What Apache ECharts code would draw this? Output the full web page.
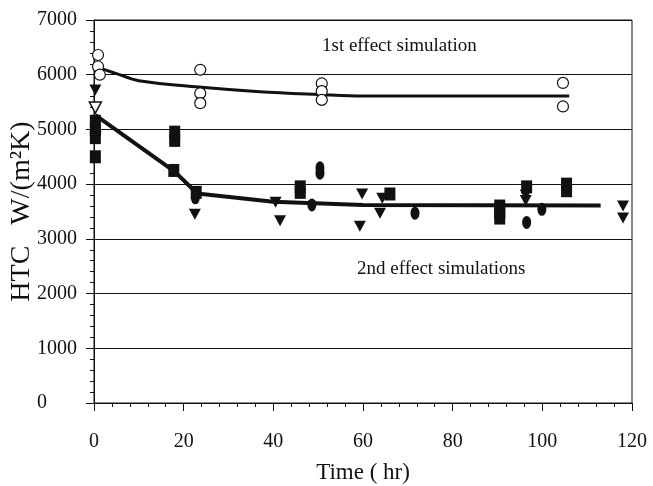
<!DOCTYPE html>
<html>
<head>
<meta charset="utf-8">
<script src="https://cdn.jsdelivr.net/npm/echarts@6/dist/echarts.min.js"></script>
<style>
html,body{margin:0;padding:0;background:#fff;}
#c{width:653px;height:486px;}
</style>
</head>
<body>
<div id="c"></div>
<script>
// ---- data (time in hr, HTC in W/(m2K)) ----
const xTicks = [0, 20, 40, 60, 80, 100, 120];
const yTicks = [0, 1000, 2000, 3000, 4000, 5000, 6000, 7000];

const firstEffectExp = [
  [0.9, 6360], [0.9, 6150], [1.3, 6000],
  [23.7, 6090], [23.7, 5660], [23.7, 5480],
  [50.8, 5840], [50.8, 5700], [50.8, 5540],
  [104.6, 5850], [104.6, 5420]
];
const firstEffectSim = [
  [1, 6130], [5, 6020], [10, 5890], [24, 5770], [37, 5690],
  [50, 5640], [60, 5610], [80, 5610], [106, 5610]
];
const secondSquares = [
  [0.3, 5150], [0.3, 5000], [0.3, 4850], [0.3, 4500],
  [18, 4950], [18, 4800], [17.8, 4250],
  [22.8, 3850],
  [46, 3950], [46, 3850],
  [66, 3820],
  [90.5, 3600], [90.5, 3480], [90.5, 3380],
  [96.5, 3950],
  [105.4, 4000], [105.4, 3880]
];
const secondCircles = [
  [0.6, 4950], [22.6, 3750], [48.6, 3620], [50.4, 4300], [50.4, 4200],
  [71.6, 3470], [96.5, 3300], [99.9, 3540]
];
const secondTriangles = [
  [0.3, 5720], [22.5, 3450], [40.5, 3670], [41.5, 3330],
  [59.8, 3820], [59.3, 3230], [63.8, 3470], [64.3, 3740],
  [96.3, 3800], [96.3, 3700], [118, 3600], [118, 3380]
];
const secondOpenTriangles = [[0.3, 5400]];
const secondEffectSim = [
  [0.3, 5260], [18, 4230], [23, 3830], [40, 3680], [60, 3620], [113, 3610]
];
const labels = { first: '1st effect simulation', second: '2nd effect simulations' };

const FONT = '"Liberation Serif", "Times New Roman", serif';
const INK = '#111';

const chart = echarts.init(document.getElementById('c'), null, { renderer: 'canvas' });
chart.setOption({
  backgroundColor: '#fff',
  animation: false,
  grid: { left: 94, right: 21, top: 20, bottom: 83, containLabel: false, outerBoundsMode: 'none',
          show: true, borderColor: INK, borderWidth: 1, backgroundColor: 'transparent' },
  xAxis: {
    type: 'value', min: xTicks[0], max: xTicks[xTicks.length - 1], interval: 20,
    name: 'Time ( hr)', nameLocation: 'middle', nameGap: 58, nameMoveOverlap: false,
    nameTextStyle: { fontFamily: FONT, fontSize: 23, color: INK },
    axisLine: { show: true, lineStyle: { color: INK, width: 1 } },
    axisTick: { show: true, length: 8, lineStyle: { color: INK } },
    minorTick: { show: true, splitNumber: 5, length: 4, lineStyle: { color: INK } },
    axisLabel: { fontFamily: FONT, fontSize: 20, color: INK, margin: 29, formatter: v => String(v) },
    splitLine: { show: false }
  },
  yAxis: {
    type: 'value', min: yTicks[0], max: yTicks[yTicks.length - 1], interval: 1000,
    name: 'HTC   W/(m²K)', nameLocation: 'middle', nameGap: 58, nameMoveOverlap: false,
    nameTextStyle: { fontFamily: FONT, fontSize: 28, color: INK },
    axisLine: { show: true, lineStyle: { color: INK, width: 1 } },
    axisTick: { show: true, length: 8, lineStyle: { color: INK } },
    minorTick: { show: true, splitNumber: 5, length: 4, lineStyle: { color: INK } },
    axisLabel: { fontFamily: FONT, fontSize: 20, color: INK, margin: 57, align: 'left', formatter: v => String(v) },
    splitLine: { show: true, lineStyle: { color: INK, width: 1 } }
  },
  graphic: [
    { type: 'text', left: 322, top: 37, style: { text: labels.first, font: '19px ' + FONT, fill: INK } },
    { type: 'text', left: 357, top: 260, style: { text: labels.second, font: '19px ' + FONT, fill: INK } }
  ],
  series: [
    { type: 'line', data: firstEffectSim, smooth: 0.35, showSymbol: false, lineStyle: { color: INK, width: 3 }, z: 3 },
    { type: 'line', data: secondEffectSim, smooth: false, showSymbol: false, lineStyle: { color: INK, width: 4 }, z: 3 },
    { type: 'scatter', data: firstEffectExp, symbol: 'circle', symbolSize: 11,
      itemStyle: { color: '#fff', borderColor: INK, borderWidth: 1.2, opacity: 1 }, z: 4 },
    { type: 'scatter', data: secondSquares, symbol: 'rect', symbolSize: [11, 13],
      itemStyle: { color: INK, opacity: 1 }, z: 4 },
    { type: 'scatter', data: secondCircles, symbol: 'circle', symbolSize: [9, 13],
      itemStyle: { color: INK, opacity: 1 }, z: 4 },
    { type: 'scatter', data: secondTriangles, symbol: 'triangle', symbolRotate: 180, symbolSize: [12, 11],
      itemStyle: { color: INK, opacity: 1 }, z: 4 },
    { type: 'scatter', data: secondOpenTriangles, symbol: 'triangle', symbolRotate: 180, symbolSize: [12, 11],
      itemStyle: { color: '#fff', borderColor: INK, borderWidth: 1.5, opacity: 1 }, z: 4 }
  ]
});
</script>
</body>
</html>
